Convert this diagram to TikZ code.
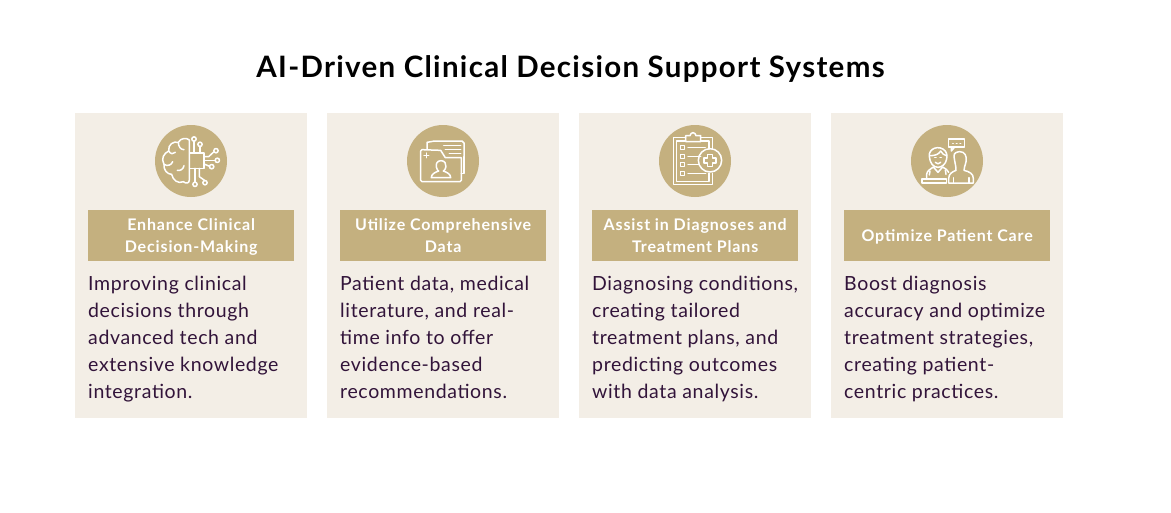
\documentclass[tikz,border=0pt]{standalone}
\usepackage{fontspec}
\setmainfont{Lato}
\newfontfamily\bodyfam[LetterSpace=3.3]{Lato}
\newfontfamily\headfam[LetterSpace=5.4]{Lato}
\newfontfamily\titlefam[LetterSpace=4.4]{Lato}
\newcommand\hdtext[1]{\raisebox{-1pt}[\height][\depth]{\begin{tabular}{@{}c@{}}#1\end{tabular}}}
\definecolor{cardbg}{HTML}{F3EEE6}
\definecolor{gold}{HTML}{C4B07F}
\definecolor{ink}{HTML}{32143A}
\tikzset{
  card/.style={fill=cardbg,draw=none,minimum width=232pt,minimum height=305pt,inner sep=0pt,anchor=north west},
  badge/.style={fill=gold,draw=none,circle,minimum size=72pt,inner sep=0pt},
  headbox/.style={fill=gold,draw=none,minimum width=206pt,minimum height=51pt,inner sep=0pt,anchor=north west,text=white,align=center,font=\headfam\bfseries\fontsize{16}{22}\selectfont},
  bodytext/.style={anchor=north west,inner sep=0pt,align=left,text=ink,font=\bodyfam\fontsize{19.5}{27}\selectfont},
  ic/.style={draw=white,line width=1.5pt,line cap=round,line join=round,fill=none}
}
\begin{document}
\begin{tikzpicture}[x=1pt,y=-1pt]
\useasboundingbox (0,0) rectangle (1171,512);
\node[text=black,font=\titlefam\bfseries\fontsize{29.5}{34}\selectfont] (title) at (570.5,69.5) {AI-Driven Clinical Decision Support Systems};
% cards
\node[card] (c1) at (75,113) {};
\node[card] (c2) at (327,113) {};
\node[card] (c3) at (579,113) {};
\node[card] (c4) at (831,113) {};
\node[badge] (b1) at (191,161) {};
\node[badge] (b2) at (443,161) {};
\node[badge] (b3) at (695,161) {};
\node[badge] (b4) at (947,161) {};
\node[headbox] (h1) at (88,210) {\hdtext{Enhance Clinical\\Decision-Making}};
\node[headbox] (h2) at (340,210) {\hdtext{Utilize Comprehensive\\Data}};
\node[headbox] (h3) at (592,210) {\hdtext{Assist in Diagnoses and\\Treatment Plans}};
\node[headbox] (h4) at (844,210) {\hdtext{Optimize Patient Care}};
\node[bodytext] (t1) at (88,276) {Improving clinical\\decisions through\\advanced tech and\\extensive knowledge\\integration.};
\node[bodytext] (t2) at (340,276) {Patient data, medical\\literature, and real-\\time info to offer\\evidence-based\\recommendations.};
\node[bodytext] (t3) at (592,276) {Diagnosing conditions,\\creating tailored\\treatment plans, and\\predicting outcomes\\with data analysis.};
\node[bodytext] (t4) at (844,276) {Boost diagnosis\\accuracy and optimize\\treatment strategies,\\creating patient-\\centric practices.};
% brain icon
\begin{scope}[shift={(140,115)},scale=1/3]
\draw[ic] (148,75) .. controls (140,68) and (122,68) .. (115,82) .. controls (100,78) and (84,88) .. (86,108) .. controls (72,115) and (62,130) .. (72,148) .. controls (70,165) and (82,178) .. (95,178) .. controls (98,195) and (115,208) .. (130,200) .. controls (138,207) and (148,205) .. (148,195) -- (148,75);
\draw[ic] (86,108) .. controls (92,118) and (100,118) .. (106,112);
\draw[ic] (115,82) .. controls (115,95) and (122,104) .. (132,104);
\draw[ic] (72,148) .. controls (82,155) and (95,150) .. (98,140);
\draw[ic] (112,166) .. controls (122,168) and (130,162) .. (132,152);
\draw[ic] (148,114) rectangle (192,160);
\draw[ic] (162,78) -- (162,114);
\draw[ic] (162,72) circle (6.5);
\draw[ic] (180,94) -- (180,114);
\draw[ic] (180,88) circle (6.5);
\draw[ic] (192,125) -- (206,125) -- (222,110);
\draw[ic] (228,107) circle (6.5);
\draw[ic] (192,136) -- (226,136);
\draw[ic] (232,136) circle (6.5);
\draw[ic] (192,147) -- (209,154);
\draw[ic] (215,155) circle (6.5);
\draw[ic] (178,160) -- (178,185) -- (195,197);
\draw[ic] (195,203) circle (6.5);
\draw[ic] (165,160) -- (165,202);
\draw[ic] (165,208) circle (6.5);
\end{scope}
% folder icon
\begin{scope}[shift={(392,115)},scale=1/3]
\draw[ic] (105,103) -- (105,82) -- (128,78) -- (210,78) -- (216,84) -- (216,125);
\draw[ic] (155,92) -- (206,92);
\draw[ic] (160,103) -- (206,103);
\draw[ic] (172,115) -- (206,115);
\draw[ic] (86,108) -- (86,196) -- (90,200) -- (204,200) -- (208,196) -- (208,128) -- (160,128) -- (146,106) -- (90,104) -- cycle;
\draw[ic] (216,125) -- (216,175) -- (208,175);
\draw[ic] (103,114) -- (103,128) (96,121) -- (110,121);
\draw[ic] (147,137) .. controls (136,137) and (131,146) .. (133,156) .. controls (134,163) and (138,167) .. (140,168) .. controls (128,172) and (118,178) .. (118,188) -- (176,188) .. controls (176,178) and (166,172) .. (154,168) .. controls (157,166) and (161,162) .. (162,155) .. controls (163,146) and (158,137) .. (147,137) -- cycle;
\end{scope}
% clipboard icon
\begin{scope}[shift={(644,115)},scale=1/3]
\draw[ic] (125,68) -- (89,68) -- (89,209) -- (205,209) -- (205,175);
\draw[ic] (170,68) -- (205,68) -- (205,102);
\draw[ic] (98,78) -- (98,199) -- (195,199) -- (195,175);
\draw[ic] (125,78) -- (98,78) (170,78) -- (195,78) -- (195,102);
\draw[ic] (125,62) -- (138,62) .. controls (140,50) and (154,50) .. (156,62) -- (170,62) -- (170,80) -- (125,80) -- cycle;
\draw[ic] (110,92) rectangle (121,104);
\draw[ic] (110,118) rectangle (121,130);
\draw[ic] (110,143) rectangle (121,155);
\draw[ic] (110,169) rectangle (121,181);
\draw[ic] (132,98) -- (184,98);
\draw[ic] (132,124) -- (170,124);
\draw[ic] (132,149) -- (164,149);
\draw[ic] (132,175) -- (185,175);
\draw[ic] (198,136) circle (35);
\draw[ic] (191,119) -- (205,119) -- (205,129) -- (216,129) -- (216,144) -- (205,144) -- (205,154) -- (191,154) -- (191,144) -- (180,144) -- (180,129) -- (191,129) -- cycle;
\end{scope}
% doctor-patient icon
\begin{scope}[shift={(896,115)},scale=1/3]
\draw[ic] (158,72) rectangle (206,96);
\draw[ic] (166,96) -- (166,108) -- (176,96);
\draw[ic] (170,85) -- (172,85) (181,85) -- (183,85) (192,85) -- (194,85);
\draw[ic] (100,125) .. controls (96,100) and (130,88) .. (148,108) .. controls (154,118) and (154,125) .. (152,132) .. controls (150,148) and (136,157) .. (126,157) .. controls (112,157) and (102,145) .. (100,125) -- cycle;
\draw[ic] (103,122) .. controls (118,122) and (128,118) .. (134,108) .. controls (138,116) and (144,120) .. (151,122);
\draw[ic] (116,128) -- (120,128) (132,128) -- (136,128);
\draw[ic] (118,142) .. controls (122,148) and (130,148) .. (134,142);
\draw[ic] (92,188) -- (92,178) .. controls (92,168) and (104,162) .. (112,156) -- (126,172) -- (140,156) .. controls (148,162) and (156,164) .. (158,172);
\draw[ic] (102,168) -- (100,180) (148,165) -- (150,178);
\draw[ic] (78,192) rectangle (152,204);
\draw[ic] (174,125) .. controls (172,112) and (186,110) .. (192,110) .. controls (205,110) and (214,122) .. (210,140) .. controls (208,152) and (203,158) .. (204,166) .. controls (220,170) and (232,176) .. (232,190) -- (232,204) -- (158,204) -- (158,190) .. controls (158,176) and (170,170) .. (180,166) .. controls (181,158) and (176,140) .. (174,125) -- cycle;
\draw[ic] (172,188) -- (172,204) (219,188) -- (219,204);
\end{scope}
\end{tikzpicture}
\end{document}
